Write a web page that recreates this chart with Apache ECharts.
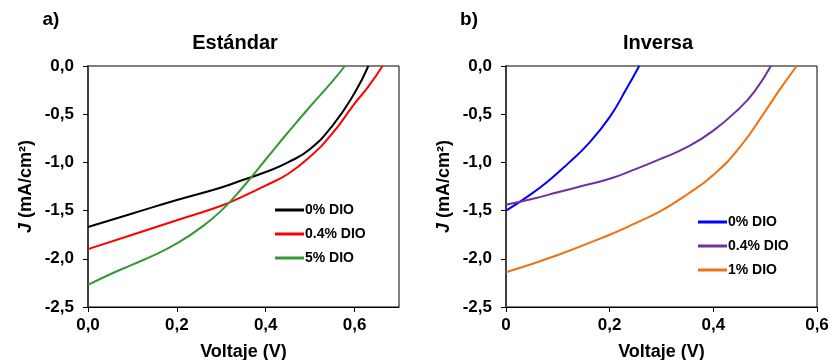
<!DOCTYPE html>
<html>
<head>
<meta charset="utf-8">
<script src="https://cdn.jsdelivr.net/npm/echarts@6/dist/echarts.min.js"></script>
<style>html,body{margin:0;padding:0;background:#fff}#c{width:832px;height:360px}</style>
</head>
<body>
<div id="c"></div>
<script>
// ---- Data (a) Estándar ----
const stdV_0  = [0, 0.1, 0.2, 0.3, 0.35, 0.4, 0.45, 0.5, 0.55, 0.6, 0.631];
const stdJ_0  = [-1.67, -1.53, -1.39, -1.26, -1.18, -1.10, -1.00, -0.86, -0.62, -0.28, 0];
const stdV_04 = [0, 0.1, 0.2, 0.3, 0.35, 0.4, 0.45, 0.5, 0.55, 0.6, 0.63, 0.663];
const stdJ_04 = [-1.90, -1.75, -1.60, -1.45, -1.35, -1.24, -1.12, -0.94, -0.70, -0.39, -0.22, 0];
const stdV_5  = [0, 0.05, 0.1, 0.15, 0.2, 0.25, 0.3, 0.35, 0.4, 0.45, 0.5, 0.55, 0.578];
const stdJ_5  = [-2.27, -2.16, -2.06, -1.96, -1.84, -1.69, -1.50, -1.25, -0.97, -0.69, -0.42, -0.16, 0];
// ---- Data (b) Inversa ----
const invV_0  = [0, 0.04, 0.08, 0.12, 0.16, 0.2, 0.23, 0.257];
const invJ_0  = [-1.50, -1.36, -1.20, -1.01, -0.80, -0.53, -0.26, 0];
const invV_04 = [0, 0.05, 0.1, 0.15, 0.2, 0.25, 0.3, 0.35, 0.4, 0.45, 0.48, 0.511];
const invJ_04 = [-1.44, -1.38, -1.31, -1.24, -1.17, -1.07, -0.96, -0.84, -0.67, -0.44, -0.26, 0];
const invV_1  = [0, 0.1, 0.2, 0.25, 0.3, 0.35, 0.4, 0.45, 0.5, 0.53, 0.561];
const invJ_1  = [-2.14, -1.96, -1.75, -1.63, -1.50, -1.33, -1.13, -0.85, -0.47, -0.23, 0];

const stdNames = ['0% DIO', '0.4% DIO', '5% DIO'];
const invNames = ['0% DIO ', '0.4% DIO ', '1% DIO'];
const yTicks = [0, -0.5, -1.0, -1.5, -2.0, -2.5];
const stdXTicks = [0, 0.2, 0.4, 0.6];
const invXTicks = [0, 0.2, 0.4, 0.6];

const zip = (a, b) => a.map((v, i) => [v, b[i]]);
const comma = v => v.toFixed(1).replace('.', ',');
const FONT = '"Liberation Sans", Arial, sans-serif';

function mkX(idx, max, ticks, fmt) {
  return {
    gridIndex: idx, type: 'value', min: 0, max: max,
    name: 'Voltaje (V)', nameLocation: 'middle', nameGap: 36,
    nameTextStyle: {fontFamily: FONT, fontWeight: 'bold', fontSize: 18, color: '#000'},
    axisLine: {show: true, onZero: false, lineStyle: {color: '#000', width: 1}},
    axisTick: {show: true, inside: false, length: 5, customValues: ticks, lineStyle: {color: '#000'}},
    axisLabel: {customValues: ticks, margin: 10, fontFamily: FONT, fontWeight: 'bold', fontSize: 17, color: '#000', formatter: fmt},
    splitLine: {show: false}
  };
}
function mkY(idx) {
  return {
    gridIndex: idx, type: 'value', min: -2.5, max: 0, interval: 0.5,
    name: '{i|J} (mA/cm²)', nameLocation: 'middle', nameGap: 53,
    nameTextStyle: {fontFamily: FONT, fontWeight: 'bold', fontSize: 18, color: '#000',
      rich: {i: {fontFamily: FONT, fontWeight: 'bold', fontStyle: 'italic', fontSize: 18, color: '#000'}}},
    axisLine: {show: true, onZero: false, lineStyle: {color: '#404040', width: 2}},
    axisTick: {show: true, inside: false, length: 5, customValues: yTicks, lineStyle: {color: '#000'}},
    axisLabel: {customValues: yTicks, margin: 14, fontFamily: FONT, fontWeight: 'bold', fontSize: 17, color: '#000', formatter: v => comma(v)},
    splitLine: {show: false}
  };
}
function mkS(name, xi, v, j, color) {
  return {name: name, type: 'line', xAxisIndex: xi, yAxisIndex: xi, data: zip(v, j),
    symbol: 'none', smooth: 0.5, lineStyle: {color: color, width: 2}, itemStyle: {color: color}};
}
function mkLegend(names, left, top) {
  return {data: names, orient: 'vertical', left: left, top: top, itemWidth: 29, itemHeight: 3, itemGap: 10,
    icon: 'rect', padding: 0,
    textStyle: {fontFamily: FONT, fontWeight: 'bold', fontSize: 14, color: '#000', padding: [0, 0, 0, -4]}};
}
const txt = (s, x, y, size) => ({type: 'text', x: x, y: y,
  style: {text: s, fontFamily: FONT, fontWeight: 'bold', fontSize: size, fill: '#000', textAlign: 'center', textVerticalAlign: 'middle'}});

const chart = echarts.init(document.getElementById('c'), null, {renderer: 'canvas'});
chart.setOption({
  animation: false,
  backgroundColor: '#fff',
  grid: [
    {left: 88, top: 66, width: 311, height: 241, outerBoundsMode: 'none', containLabel: false, show: true, borderColor: '#000', borderWidth: 1, backgroundColor: 'transparent'},
    {left: 506, top: 66, width: 311, height: 241, outerBoundsMode: 'none', containLabel: false, show: true, borderColor: '#000', borderWidth: 1, backgroundColor: 'transparent'}
  ],
  xAxis: [
    mkX(0, 0.7, stdXTicks, v => comma(v)),
    mkX(1, 0.6, invXTicks, v => v === 0 ? '0' : comma(v))
  ],
  yAxis: [mkY(0), mkY(1)],
  legend: [
    mkLegend(stdNames, 275, 203),
    mkLegend(invNames, 698, 215)
  ],
  graphic: [
    txt('a)', 51, 20, 19),
    txt('Estándar', 235, 43, 20),
    txt('b)', 469, 20, 19),
    txt('Inversa', 658, 43, 20)
  ],
  series: [
    mkS(stdNames[0], 0, stdV_0, stdJ_0, '#000000'),
    mkS(stdNames[1], 0, stdV_04, stdJ_04, '#ff0000'),
    mkS(stdNames[2], 0, stdV_5, stdJ_5, '#339933'),
    mkS(invNames[0], 1, invV_0, invJ_0, '#0000ff'),
    mkS(invNames[1], 1, invV_04, invJ_04, '#7030a0'),
    mkS(invNames[2], 1, invV_1, invJ_1, '#f07010')
  ]
});
</script>
</body>
</html>
